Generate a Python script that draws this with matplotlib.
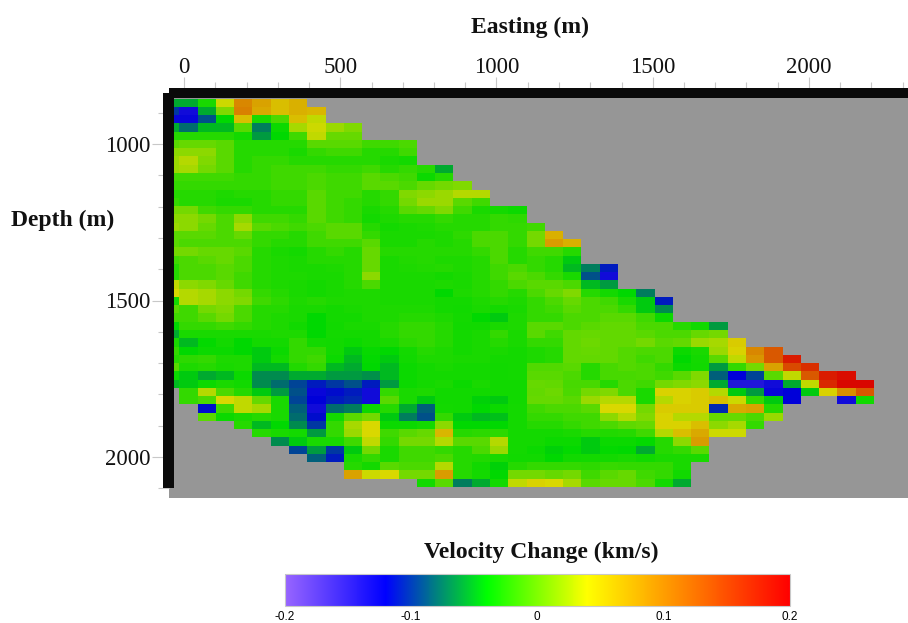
import numpy as np
import matplotlib
matplotlib.use('Agg')
import matplotlib.pyplot as plt
from matplotlib.colors import LinearSegmentedColormap, Normalize
from matplotlib.cm import ScalarMappable
from matplotlib.patches import Rectangle
from matplotlib.ticker import MultipleLocator

n = np.nan

# velocity change, in 0.01 km/s, one list per depth row
vel_rows = [
    [-6,-6,-3.5,3.5,10,8,6,7],
    [-10,-13,-6,0.5,10.5,7.5,6,7,6.5],
    [-12.5,-12.5,-9,-4.5,6,-3.5,-1.5,6,3],
    [-6,-8,-5.5,-5.5,-1,-7.5,-4,2,3.5,1.5,0.5],
    [-3,-3,-3,-3,-3.7,-6.5,-4.5,-2,3,-0.5,-0.5],
    [-1,-0.5,-0.5,-1,-3,-3,-3,-3,-1,-1,-1,-2,-2,-1.5],
    [1,1,1,-1,-3,-3,-3,-3.5,-2.5,-2,-2,-3,-3,-2],
    [1.5,2.5,0.5,-1,-3,-2.5,-2.5,-3,-3,-3,-3,-3,-3.5,-3.7],
    [1.5,2,0,-1,-3,-2.5,-2,-2,-2,-2.5,-2.5,-2,-3,-2.5,-3,-6],
    [-2,-2,-2,-2,-2.5,-2.5,-2,-2,-1.5,-2,-2,-1,-1.5,-2,-4,-3],
    [-2.5,-2.5,-2.5,-2.5,-2.5,-2.5,-2,-2,-1.5,-2,-2,-1,-1,-1.5,-0.5,0,0.5],
    [-3,-3,-3,-3.3,-3,-3,-2.5,-2.5,-1,-2,-2,-3,-2.5,0.5,1,1.5,2.5,2.5],
    [-2.5,-3,-3,-3.5,-3.5,-3,-2.5,-2.5,-1,-2,-2.5,-3,-2.5,0,1.5,1.5,-1,-2],
    [0,0,-2,-2.5,-2.5,-3,-3,-3,-1,-2,-2.5,-3.5,-3,-1,-0.5,0.5,-2,-3.5,-3.7,-4],
    [1,1,0,-1.5,1,-2,-2,-2.5,-1,-2,-2.5,-3.7,-3.3,-3,-3,-2.5,-3,-3,-2.5,-2.7],
    [1.5,1,-0.5,-1.5,2,-1,-1.5,-2,-1.5,-1,-1,-3,-3.7,-3.5,-3.3,-3,-3,-3,-2.5,-2.5,-2],
    [-1,-1,-1,-1.5,-0.5,-2.5,-2.5,-3,-2,-1,-1,-2.5,-3.5,-3.5,-3.5,-3.3,-2.7,-1.5,-1.5,-2.5,0,7],
    [-1,-1.5,-1.5,-1.5,-1.5,-2.5,-3,-3,-2,-2,-2,-1,-3.5,-3.5,-3,-3.3,-3,-1.5,-1.5,-2.5,0,8.5,7],
    [0,0,-0.5,-0.5,-1,-3,-3.5,-3.7,-3,-2.5,-3,-0.5,-3,-3,-3,-3,-3,-2.5,-1.5,-3,-2,-2,-3],
    [-2,-1.5,-1,-0.5,-1.5,-3,-3.3,-3.5,-3,-3,-3,-0.5,-3.5,-3.2,-3,-3.3,-3.3,-3,-1.5,-3,-2.5,-3,-5],
    [-3,-1.5,-1.5,-1,-1.5,-3,-3.3,-3.5,-3.5,-3.3,-3,-0.5,-3.5,-3.3,-3.2,-3,-3.3,-3,-2,-1.5,-2.5,-3,-5.5,-7.5,-11],
    [-3,-1.5,-1.5,-1,-2,-3,-3.3,-3.3,-3.5,-3.5,-3,1,-3.5,-3.5,-3.5,-3.7,-3.5,-3,-2,-1,-1.5,-2.5,-3.5,-9,-13],
    [3,1,0.5,-0.5,-2,-3,-3.3,-3.5,-3.7,-3.5,-3,-1.5,-3.5,-3.5,-3.5,-3.3,-3.5,-3,-2.5,-1.5,-1,-1,-1.5,-5.5,-6.5],
    [4,2.5,2,1,0,-2.5,-3,-3.5,-3.7,-3.5,-3.3,-3.3,-3.5,-3.5,-3.5,-4.5,-3.3,-3,-2.5,-3,-1.5,-0.5,0.5,-3,-3.7,-4.5,-7.5],
    [-3.7,2.5,2,1,0.5,-2,-2.7,-3.3,-3,-3.3,-3.3,-3.3,-3.5,-3.5,-3.5,-3.7,-3.7,-3.3,-3,-3.3,-2.5,-1.5,-0.5,-1.5,-2,-3.5,-5,-11],
    [-1,-2,0,0.5,-1.5,-3,-3,-3.5,-3.5,-3.7,-3.5,-3.3,-3.3,-3.3,-3.3,-3.7,-3.8,-3.5,-3.7,-3.5,-2.5,-2,-1,-1.5,-1.5,-2.5,-5,-7],
    [-2,-2,-1,0,-1.5,-3,-3.3,-3.5,-4.5,-3.7,-3.7,-3.3,-3.3,-3,-3,-3.3,-3.7,-4.5,-5,-3.3,-2.5,-2.5,-1.5,-1.5,-1,-1,-2,-4],
    [-4.5,-2.5,-2.5,-2,-2.5,-3,-3.3,-3.8,-4.5,-3.8,-3.5,-3.5,-3,-2.5,-2.5,-3,-3.8,-3.8,-3.5,-3.3,-1,-1,-1.5,-1,-0.7,-0.7,-1.5,-1.5,-3,-3.8,-6.5],
    [-6,-3.5,-3.5,-3.5,-3.5,-3.5,-3.3,-3.3,-4.5,-3.7,-3.7,-3.7,-3,-2.5,-2.5,-3,-3.7,-3.5,-2.5,-3.5,-1,-2,-0.7,-0.5,-0.7,-0.7,-1,-1.5,-1.5,-0.5,0],
    [-3.5,-5.5,-4.3,-3.7,-4.5,-3.7,-3.7,-2.5,-3.7,-3.8,-4,-3.7,-3.5,-2.8,-2.5,-3,-3.7,-3.5,-3,-3.5,-2.5,-2.5,-0.7,-0.3,-0.7,-0.7,0,-1,-0.7,1.5,2,5],
    [-2.5,-4.5,-4,-4,-4.5,-5,-4,-2.5,-2.5,-3.8,-5,-4.2,-4.5,-3.7,-3,-3.3,-3.7,-3.5,-3.5,-3.7,-3.3,-3,-0.7,-0.5,-0.7,-1.2,-1.5,-1.5,-4,-3.5,1.5,4.5,10,13.5],
    [-3,-2.7,-2.5,-3.3,-3.3,-5,-3.7,-2.5,-2,-4,-5.5,-4.3,-5,-3.8,-3.3,-3.3,-3.5,-3.5,-3.7,-3.7,-3.3,-3,-0.7,-0.7,-0.7,-1.2,-2,-1.5,-4.5,-3.7,-1,3,9,13.5,18],
    [-1,-3.3,-3,-3.5,-3.3,-5.5,-5.5,-3.2,-2.5,-5.5,-6,-4.5,-5.5,-4,-3.7,-3.5,-3.7,-3.7,-3.8,-3.7,-1.3,-1.3,-1,-3,-1.7,-1.2,-1.5,-2.5,-4,-3.8,-6.5,-2.5,0,8,14.5,16.5],
    [-4,-5,-6,-5.5,-4,-7,-7,-6,-6,-6.5,-6.5,-6.8,-5.5,-4,-3.7,-3.7,-3.7,-3.7,-3.8,-3.7,-1,-1,-1.5,-3,-1.7,-1.7,-1.5,-2,-1,0.5,-8.5,-12,-9.5,-1,3,13.5,18,19],
    [-5.5,-5,-4,-3.5,-3.8,-7,-8,-9.5,-11,-10,-9,-11,-6.5,-4,-3.7,-3.5,-4,-3.5,-3.8,-3.8,-0.5,-0.7,-1.7,-1.7,-3,-1.5,-2,0,0.5,1,-6,-14,-14,-13,-6,3,17,19.5,19.5],
    [n,-2.5,2.5,-1.5,-3,-5,-6.5,-9,-12.5,-11.5,-11,-13,-2.5,-3.5,-3.3,-3.8,-3.8,-3.8,-3.8,-3.8,-0.7,-0.3,-1.5,0,0.5,-1.5,-3.5,4.5,4.5,5,2.5,-5,-6.5,-12.5,-12,-5,4.5,9.5,13.5],
    [n,-2.5,-1.5,4,3,-0.5,-3.5,-9.5,-12,-11,-10.5,-13,-1,-3.5,-5,-3.8,-3.8,-4.7,-5,-3.8,-0.5,-0.5,-1,1.5,2.5,2.5,-3.5,2.5,4.5,5,6,3.5,-2.5,-5,-12,n,n,-13,-3.8],
    [n,n,-11.5,-2,3,2,-3.5,-8.5,-13,-8,-7.5,-4,-3,-6,-8.5,-3.7,-3.8,-4.5,-4,-3.7,-2,-1.5,-1.5,-1,4,4,0,5,5,5,-10.5,7.5,8,-3],
    [n,n,-1,-4,-3.5,-3,-3.5,-8,-11.5,-3.7,-1,0,-5,-7.5,-9,-2.5,-5,-5.5,-5.3,-3.7,-2.5,-2.5,-2,-2,1,2.5,0.5,4.5,2.5,2.5,-0.5,-0.5,-1.5,1.5],
    [n,n,n,n,-3,-5.5,-4.5,-7,-10,-2.5,2,4,-4,-4,-3.7,1,-4.5,-4.5,-4.5,-3.7,-3,-3,-2.5,-2,-1.5,-0.8,-0.5,4.5,4.5,6,1,2,-2.5],
    [n,n,n,n,n,-3,-3.5,-3.7,-6.5,-2.5,1.5,4,-2,-1,-0.5,6.5,-3,-2.8,-2.8,-3.7,-3.7,-3.7,-3.5,-3,-3.2,-3,-2,2.5,6,7.5,3.5,3.5],
    [n,n,n,n,n,n,-7,-5,-3.5,-3.5,-2,3,-2.5,0,0,2.5,-1,-1,2.5,-3.7,-3.7,-4,-4,-5,-4,-4,-4.3,-3,1,8.5],
    [n,n,n,n,n,n,n,-9.5,-6.5,-10,-5,0,-3.5,-2,-2,-2.5,-3,-1.5,1.5,-3.7,-4,-4.7,-4.3,-5,-4.3,-4.5,-6,-3,-2.5,-1],
    [n,n,n,n,n,n,n,n,-8.5,-11,-3.5,-2.5,-3.5,-2,-2,-1.5,-3,-3.2,-3.5,-3.8,-3.8,-4.5,-3.8,-3.7,-3.7,-3.5,-3.8,-3.5,-3.5,-3.5],
    [n,n,n,n,n,n,n,n,n,n,-3,-3.7,-1,-1.5,-1.5,2.5,-3,-3.8,-4.7,-3,-2.5,-2.5,-2.5,-2.7,-2.3,-2.5,-2.5,-2.5,-3.5],
    [n,n,n,n,n,n,n,n,n,n,8,3.5,4,0,0,8.5,-3,-3.7,-4.5,0,0,-0.5,0,-2,-1,-0.5,-2,-2.5,-3.8],
    [n,n,n,n,n,n,n,n,n,n,n,n,n,n,-3.7,-1,-7.5,-6,-3.7,3,4.5,4,2,-1,-0.5,-0.5,-1.5,-3.7,-6],
]

cbar_ticks = [-0.2, -0.1, 0, 0.1, 0.2]
cbar_labels = ['-0.2', '-0.1', '0', '0.1', '0.2']
cmap_stops = [0.0, 0.2, 0.3, 0.4, 0.6, 1.0]
cmap_colors = ['#9966ff', '#0000ff', '#008080', '#00ff00', '#ffff00', '#ff0000']
# section colours run a little lighter in the greens than the bar
section_stops = [0.0, 0.2, 0.3, 0.388, 0.6, 1.0]

# model grid
x_start, dx = -73.6, 58.5
z_start, dz = 855.0, 26.4

W, H = 908, 623


def px_rect(x0, y0, x1, y1):
    # rectangle from picture pixels (y down) to figure fractions
    return [x0 / W, 1 - y1 / H, (x1 - x0) / W, (y1 - y0) / H]


ncols = max(len(r) for r in vel_rows)
grid = np.full((len(vel_rows), ncols), np.nan)
for i, r in enumerate(vel_rows):
    grid[i, :len(r)] = r
grid = grid / 100.0
grid = np.ma.masked_invalid(grid)

x_edges = x_start + dx * np.arange(ncols + 1)
z_edges = z_start + dz * np.arange(len(vel_rows) + 1)

bright = LinearSegmentedColormap.from_list('vel', list(zip(cmap_stops, cmap_colors)), N=512)
# the section itself is drawn a bit darker than the colour bar
dimmed = LinearSegmentedColormap.from_list(
    'vel_dim', [(s, tuple(0.85 * c for c in matplotlib.colors.to_rgb(col)))
                for s, col in zip(section_stops, cmap_colors)], N=512)
norm = Normalize(-0.2, 0.2)

serif = ['Liberation Serif', 'DejaVu Serif']

fig = plt.figure(figsize=(W / 100, H / 100), dpi=100)
ax = fig.add_axes(px_rect(169, 88, 908, 498))
ax.set_facecolor('#969696')
ax.pcolormesh(x_edges, z_edges, grid, cmap=dimmed, norm=norm, shading='flat', linewidth=0)

ax.set_xlim((169 - 184) / 0.3125, (908 - 184) / 0.3125)
ax.set_ylim(1000 + (498 - 144) / 0.313, 1000 + (88 - 144) / 0.313)
for s in ax.spines.values():
    s.set_visible(False)

ax.xaxis.tick_top()
ax.xaxis.set_major_locator(MultipleLocator(500))
ax.xaxis.set_minor_locator(MultipleLocator(100))
ax.yaxis.set_major_locator(MultipleLocator(500))
ax.yaxis.set_minor_locator(MultipleLocator(100))
ax.tick_params(axis='x', which='major', length=8, width=0.8, color='#c8c8c8', pad=-1)
ax.tick_params(axis='x', which='minor', length=4.5, width=0.8, color='#c8c8c8')
ax.tick_params(axis='y', which='major', length=12.5, width=0.8, color='#c8c8c8', pad=1)
ax.tick_params(axis='y', which='minor', length=8, width=0.8, color='#c8c8c8')
for lab in ax.get_xticklabels() + ax.get_yticklabels():
    lab.set_fontfamily(serif)
    lab.set_fontsize(16.5)
    lab.set_color('#111111')

# heavy black frame along the top and left of the section
fig.add_artist(Rectangle((169 / W, 1 - 98 / H), (908 - 169) / W, 10 / H,
                         transform=fig.transFigure, color='#0a0a0a', lw=0))
fig.add_artist(Rectangle((163 / W, 1 - 488 / H), 11 / W, (488 - 93) / H,
                         transform=fig.transFigure, color='#0a0a0a', lw=0))

fig.text(530 / W, 1 - 27 / H, 'Easting (m)', family=serif, weight='bold', fontsize=17,
         ha='center', va='center', color='#111111')
fig.text(63 / W, 1 - 220 / H, 'Depth (m)', family=serif, weight='bold', fontsize=17,
         ha='center', va='center', color='#111111')
fig.text(541 / W, 1 - 552 / H, 'Velocity Change (km/s)', family=serif, weight='bold', fontsize=17,
         ha='center', va='center', color='#111111')

cax = fig.add_axes(px_rect(284.5, 574, 789.5, 606))
cb = fig.colorbar(ScalarMappable(norm=norm, cmap=bright), cax=cax, orientation='horizontal')
cb.set_ticks(cbar_ticks)
cb.set_ticklabels(cbar_labels)
cb.ax.tick_params(length=0, pad=3.5, labelsize=8.5)
for lab in cb.ax.get_xticklabels():
    lab.set_fontfamily('Liberation Sans')
cb.outline.set_edgecolor('#c8c8c8')
cb.outline.set_linewidth(0.8)

fig.savefig('out.png', dpi=100)
